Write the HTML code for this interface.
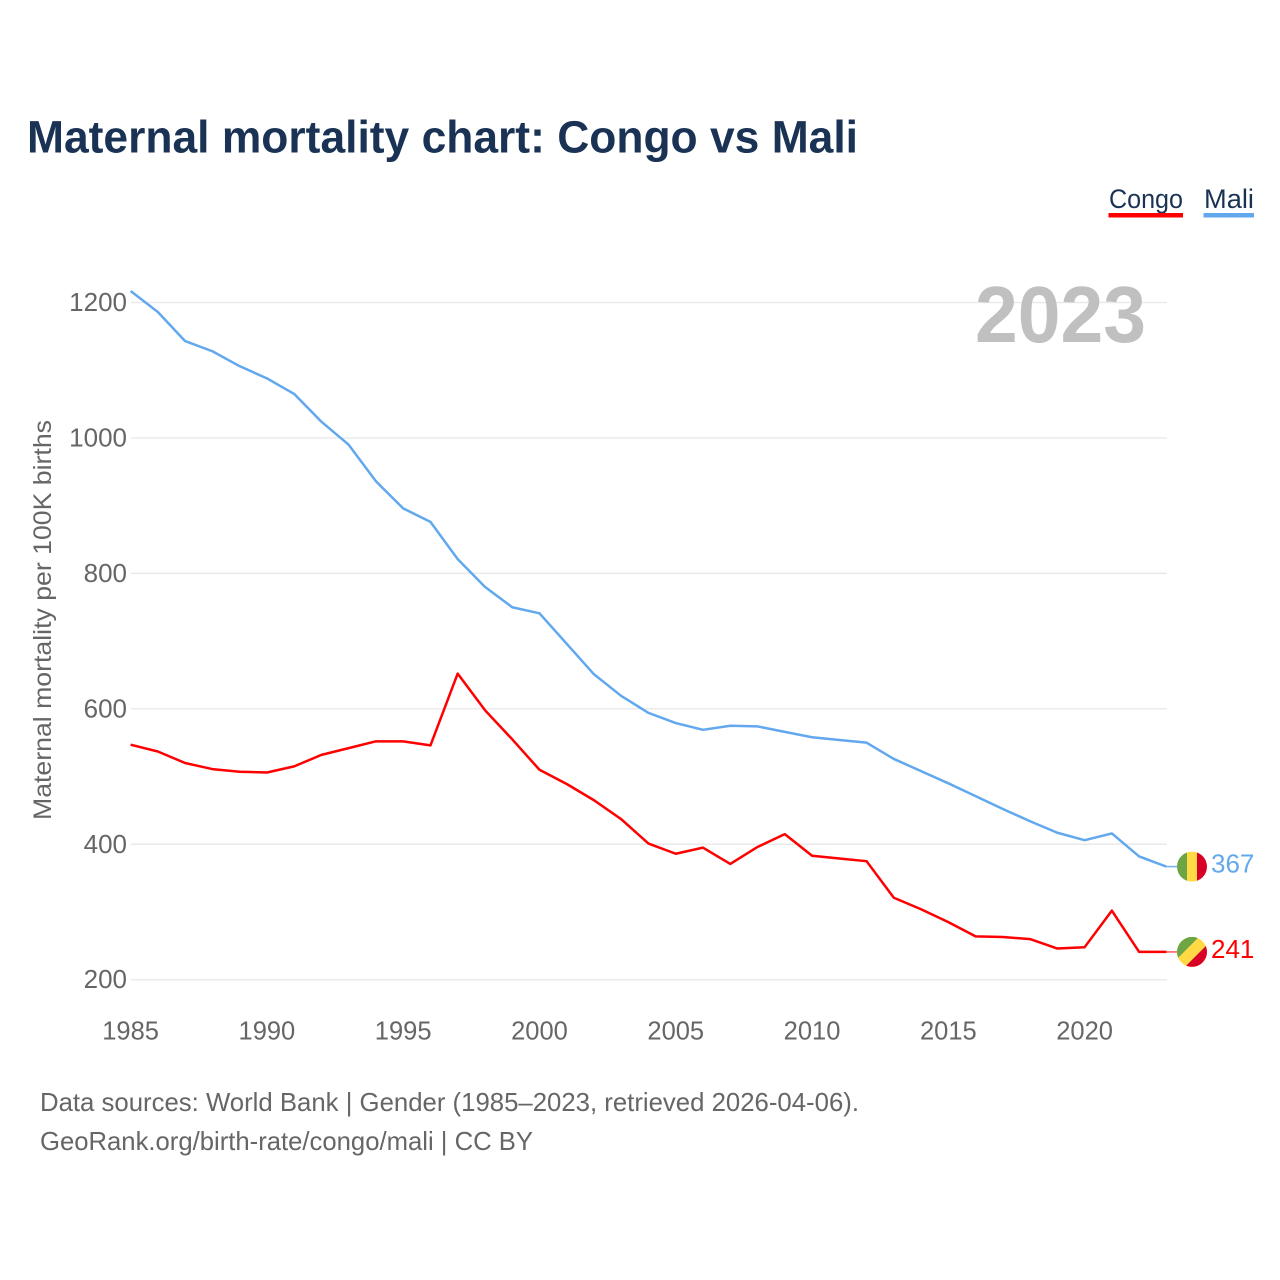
<!DOCTYPE html>
<html lang="en">
<head>
<meta charset="utf-8">
<title>Maternal mortality chart: Congo vs Mali</title>
<style>
html,body{margin:0;padding:0;background:#fff;width:1280px;height:1280px;overflow:hidden}
svg{display:block;font-family:"Liberation Sans",sans-serif}
</style>
</head>
<body>
<svg id="chart" xmlns="http://www.w3.org/2000/svg" width="1280" height="1280" viewBox="0 0 1280 1280">
  <defs>
    <clipPath id="flag-clip-mali"><circle cx="0" cy="0" r="15"/></clipPath>
    <clipPath id="flag-clip-congo"><circle cx="0" cy="0" r="15"/></clipPath>
  </defs>
  <text x="27" y="152.5" font-size="45" font-weight="700" fill="#1a3355" textLength="831" lengthAdjust="spacingAndGlyphs">Maternal mortality chart: Congo vs Mali</text>
  <g>
    <g>
      <text x="1109" y="208" font-size="27" fill="#1a3355" textLength="74" lengthAdjust="spacingAndGlyphs">Congo</text>
      <rect x="1108.5" y="213" width="74.5" height="4.5" fill="#ff0000"/>
    </g>
    <g>
      <text x="1204" y="208" font-size="27" fill="#1a3355" textLength="50" lengthAdjust="spacingAndGlyphs">Mali</text>
      <rect x="1203.5" y="213" width="50.5" height="4.5" fill="#62a8ee"/>
    </g>
  </g>
  <text transform="translate(51,620) rotate(-90)" text-anchor="middle" font-size="25" fill="#666666" textLength="400" lengthAdjust="spacingAndGlyphs">Maternal mortality per 100K births</text>
  <g id="grid"></g>
  <g id="y-ticks"></g>
  <g id="x-ticks"></g>
  <text id="year-label" x="975" y="342" font-size="80" font-weight="700" fill="#c0c0c0" textLength="171" lengthAdjust="spacingAndGlyphs">2023</text>
  <g id="series"></g>
  <g id="end-labels"></g>
  <g>
    <text x="40" y="1111" font-size="26" fill="#666666" textLength="819" lengthAdjust="spacingAndGlyphs">Data sources: World Bank | Gender (1985–2023, retrieved 2026-04-06).</text>
    <text x="40" y="1150" font-size="26" fill="#666666" textLength="493" lengthAdjust="spacingAndGlyphs">GeoRank.org/birth-rate/congo/mali | CC BY</text>
  </g>
</svg>
<script>
const years = [1985,1986,1987,1988,1989,1990,1991,1992,1993,1994,1995,1996,1997,1998,1999,2000,2001,2002,2003,2004,2005,2006,2007,2008,2009,2010,2011,2012,2013,2014,2015,2016,2017,2018,2019,2020,2021,2022,2023];
const congoValues = [547,537,520,511,507,506,515,532,542,552,552,546,652,598,555,510,489,465,437,401,386,395,371,396,415,383,379,375,321,304,285,264,263,260,246,248,302,241,241];
const maliValues = [1217,1186,1143,1128,1106,1088,1065,1024,990,936,896,876,821,780,750,741,696,651,619,594,579,569,575,574,566,558,554,550,526,508,490,471,452,434,417,406,416,382,367];
const yTickValues = [200,400,600,800,1000,1200];
const xTickValues = [1985,1990,1995,2000,2005,2010,2015,2020];

const NS = 'http://www.w3.org/2000/svg';
const xScale = function (year) { return 130.6 + (year - 1985) * (1166.4 - 130.6) / (2023 - 1985); };
const yScale = function (value) { return 979.7 - (value - 200) * (979.7 - 302.5) / (1200 - 200); };

function make(tag, attrs, parent) {
  const el = document.createElementNS(NS, tag);
  Object.keys(attrs).forEach(function (k) { el.setAttribute(k, attrs[k]); });
  parent.appendChild(el);
  return el;
}

const gridGroup = document.getElementById('grid');
const yTickGroup = document.getElementById('y-ticks');
yTickValues.forEach(function (v) {
  const line = make('line', {x1: 131, x2: 1167, y1: yScale(v), y2: yScale(v), stroke: '#e9e9e9', 'stroke-width': 1.4}, gridGroup);
  
  
  const label = make('text', {x: 127, y: yScale(v) + 8.5, 'text-anchor': 'end', 'font-size': 26, fill: '#666666'}, yTickGroup);
  
  
  label.textContent = String(v);
});

const xTickGroup = document.getElementById('x-ticks');
xTickValues.forEach(function (yr) {
  const label = make('text', {x: xScale(yr), y: 1039.5, 'text-anchor': 'middle', 'font-size': 25.5, fill: '#666666'}, xTickGroup);
  
  
  label.textContent = String(yr);
});

function linePoints(values) {
  return values.map(function (v, i) { return xScale(years[i]).toFixed(2) + ',' + yScale(v).toFixed(2); }).join(' ');
}

const seriesGroup = document.getElementById('series');
const maliLine = make('polyline', {points: linePoints(maliValues), fill: 'none', stroke: '#62a8ee', 'stroke-width': 2.5, 'stroke-linejoin': 'round'}, seriesGroup);


const congoLine = make('polyline', {points: linePoints(congoValues), fill: 'none', stroke: '#ff0000', 'stroke-width': 2.5, 'stroke-linejoin': 'round'}, seriesGroup);



const endGroup = document.getElementById('end-labels');
const lastX = xScale(years[years.length - 1]);
const maliEnd = maliValues[maliValues.length - 1];
const congoEnd = congoValues[congoValues.length - 1];
const FLAG_X = 1192;

const maliStub = make('line', {x1: lastX, x2: 1177, y1: yScale(maliEnd), y2: yScale(maliEnd), stroke: '#62a8ee', 'stroke-width': 1.6, opacity: 0.85}, endGroup);


const congoStub = make('line', {x1: lastX, x2: 1177, y1: yScale(congoEnd), y2: yScale(congoEnd), stroke: '#ff0000', 'stroke-width': 1.4, opacity: 0.7}, endGroup);



const maliFlag = make('g', {transform: 'translate(' + FLAG_X + ',' + yScale(maliEnd) + ')', 'clip-path': 'url(#flag-clip-mali)'}, endGroup);


make('rect', {x: -15, y: -15, width: 10, height: 30, fill: '#6da544'}, maliFlag);
make('rect', {x: -5, y: -15, width: 10, height: 30, fill: '#ffda44'}, maliFlag);
make('rect', {x: 5, y: -15, width: 10, height: 30, fill: '#d80027'}, maliFlag);

const congoFlag = make('g', {transform: 'translate(' + FLAG_X + ',' + yScale(congoEnd) + ')', 'clip-path': 'url(#flag-clip-congo)'}, endGroup);


make('rect', {x: -15, y: -15, width: 30, height: 30, fill: '#ffda44'}, congoFlag);
make('polygon', {points: '-15,-15 7,-15 -15,7', fill: '#6da544'}, congoFlag);
make('polygon', {points: '15,15 -7,15 15,-7', fill: '#d80027'}, congoFlag);

const maliValueLabel = make('text', {x: 1211, y: yScale(maliEnd) + 6, 'font-size': 26, fill: '#62a8ee'}, endGroup);


maliValueLabel.textContent = String(maliEnd);

const congoValueLabel = make('text', {x: 1211, y: yScale(congoEnd) + 6, 'font-size': 26, fill: '#ff0000'}, endGroup);


congoValueLabel.textContent = String(congoEnd);
</script>
</body>
</html>
